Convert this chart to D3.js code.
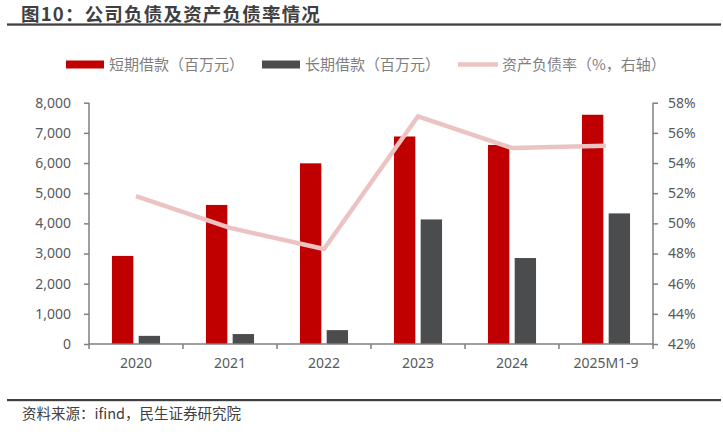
<!DOCTYPE html>
<html>
<head>
<meta charset="utf-8">
<script src="https://cdn.jsdelivr.net/npm/d3@7"></script>
<style>
  body { margin: 0; background: #fff; }
  svg { display: block; }
  text { font-family: "Noto Sans", "Noto Sans CJK SC", sans-serif; }
  .cjk { font-family: "Noto Sans CJK SC", sans-serif; }
</style>
</head>
<body>
<svg id="chart" width="723" height="441"></svg>
<script>
// データ
var categories = ["2020", "2021", "2022", "2023", "2024", "2025M1-9"];
var shortLoans = [2920, 4610, 5990, 6880, 6600, 7600];   // 短期借款（百万元）
var longLoans = [270, 330, 460, 4130, 2850, 4330];       // 长期借款（百万元）
var debtRatio = [51.8, 49.7, 48.3, 57.1, 55.0, 55.15];   // 资产负债率（%）
var leftTicks = [0, 1000, 2000, 3000, 4000, 5000, 6000, 7000, 8000];
var rightTicks = [42, 44, 46, 48, 50, 52, 54, 56, 58];

var svg = d3.select("#chart");
var axisColor = "#7f7f7f";
var labelColor = "#595959";

// 标题
svg.append("text")
  .attr("class", "cjk")
  .attr("x", 21).attr("y", 20.8)
  .attr("font-size", 18.5).attr("font-weight", "bold")
  .attr("letter-spacing", 1.2)
  .attr("fill", "#404040")
  .text("图10：公司负债及资产负债率情况");
svg.append("rect")
  .attr("x", 7).attr("y", 23.4).attr("width", 714).attr("height", 2.3)
  .attr("fill", "#404040");

// 比例尺
var x0 = d3.scaleBand().domain(categories).range([89, 653]);
var x1 = d3.scaleBand().domain(["short", "long"])
  .range([0, x0.bandwidth()]).paddingInner(0.2).paddingOuter(0.86);
var yL = d3.scaleLinear().domain([0, 8000]).range([344, 102.7]);
var yR = d3.scaleLinear().domain([42, 58]).range([344, 102.7]);

// 柱子
var rows = categories.map(function(c, i) {
  return {cat: c, short: shortLoans[i], long: longLoans[i], ratio: debtRatio[i]};
});
var colors = {short: "#c00000", long: "#4b4c4e"};

["short", "long"].forEach(function(k) {
  svg.append("g").selectAll("rect")
    .data(rows).enter().append("rect")
    .attr("x", function(d) { return x0(d.cat) + x1(k); })
    .attr("y", function(d) { return yL(d[k]); })
    .attr("width", x1.bandwidth())
    .attr("height", function(d) { return yL(0) - yL(d[k]); })
    .attr("fill", colors[k]);
});

// 轴
var gL = svg.append("g").attr("transform", "translate(89,0)")
  .call(d3.axisLeft(yL).tickValues(leftTicks).tickFormat(d3.format(",")).tickSize(5).tickPadding(13));
var gR = svg.append("g").attr("transform", "translate(653,0)")
  .call(d3.axisRight(yR).tickValues(rightTicks).tickFormat(function(d) { return d + "%"; }).tickSize(5).tickPadding(10));
var gB = svg.append("g").attr("transform", "translate(0,344)")
  .call(d3.axisBottom(x0).tickSize(0).tickPadding(14));

// 类别分隔刻度
gB.selectAll(".sep")
  .data(categories.concat(["end"])).enter().append("line")
  .attr("class", "sep")
  .attr("x1", function(d, i) { return 89 + i * x0.step(); })
  .attr("x2", function(d, i) { return 89 + i * x0.step(); })
  .attr("y1", 0).attr("y2", 5)
  .attr("stroke", axisColor).attr("stroke-width", 1.5);

[gL, gR, gB].forEach(function(g) {
  g.select(".domain").attr("stroke", axisColor).attr("stroke-width", 1.5);
  g.selectAll(".tick line").attr("stroke", axisColor).attr("stroke-width", 1.5);
  g.selectAll(".tick text").attr("fill", labelColor).attr("font-size", 14)
    .attr("font-family", "'Noto Sans', sans-serif");
});
gL.select(".domain").attr("d", "M0,102.7V344");
gR.select(".domain").attr("d", "M0,102.7V344");
gB.select(".domain").attr("d", "M89,0H653");

// 折线
var line = d3.line()
  .x(function(d) { return x0(d.cat) + x0.bandwidth() / 2; })
  .y(function(d) { return yR(d.ratio); });
svg.append("path")
  .datum(rows)
  .attr("d", line)
  .attr("fill", "none")
  .attr("stroke", "#ecc3c3")
  .attr("stroke-width", 4.5)
  .attr("stroke-linejoin", "round");

// 图例
var legend = [
  {name: "短期借款（百万元）", type: "rect", color: "#c00000", x: 66},
  {name: "长期借款（百万元）", type: "rect", color: "#4b4c4e", x: 262},
  {name: "资产负债率（%，右轴）", type: "line", color: "#ecc3c3", x: 458}
];
var lg = svg.append("g").selectAll("g").data(legend).enter().append("g")
  .attr("transform", function(d) { return "translate(" + d.x + ",64.5)"; });
lg.filter(function(d) { return d.type === "rect"; }).append("rect")
  .attr("x", 0).attr("y", -4).attr("width", 38).attr("height", 8)
  .attr("fill", function(d) { return d.color; });
lg.filter(function(d) { return d.type === "line"; }).append("line")
  .attr("x1", 0).attr("x2", 40).attr("y1", 0).attr("y2", 0)
  .attr("stroke", function(d) { return d.color; }).attr("stroke-width", 4.5);
lg.append("text")
  .attr("class", "cjk")
  .attr("x", function(d) { return d.type === "line" ? 44 : 43; })
  .attr("y", 5.5)
  .attr("font-size", 15).attr("fill", "#7f7f7f")
  .text(function(d) { return d.name; });

// 底部
svg.append("rect")
  .attr("x", 7).attr("y", 399).attr("width", 714).attr("height", 2.2)
  .attr("fill", "#404040");
svg.append("text")
  .attr("class", "cjk")
  .attr("x", 22).attr("y", 419)
  .attr("font-size", 14.5).attr("fill", "#404040")
  .text("资料来源：ifind，民生证券研究院");
</script>
</body>
</html>
